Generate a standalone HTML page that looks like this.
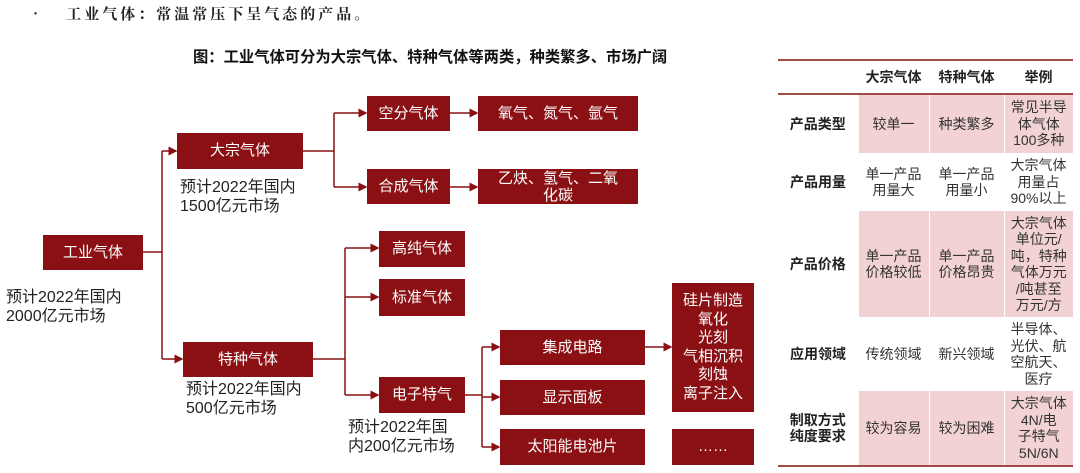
<!DOCTYPE html>
<html><head><meta charset="utf-8"><style>
body{margin:0;width:1080px;height:473px;background:#fff;position:relative;overflow:hidden;font-family:"Liberation Sans","Noto Sans CJK SC",sans-serif;}
.b{position:absolute;background:#8a1014;color:#fff;display:flex;align-items:center;justify-content:center;text-align:center;font-size:15px;line-height:18px;}
.t{position:absolute;color:#222;font-size:16px;line-height:19px;}
table{position:absolute;left:778px;top:59px;width:295px;border-collapse:collapse;font-size:14px;line-height:16.5px;color:#333;}
td{text-align:center;padding:0 2px;}
tr.p td{background:#f2d2d2;border-left:1px solid #fff;}
tr.p td:first-child{border-left:none;}
th{font-weight:bold;color:#222;}
</style></head><body>
<div style="position:absolute;left:28px;top:3px;font-size:15px;color:#222;font-family:'Noto Serif CJK SC',serif;font-weight:bold;letter-spacing:3px;">•&nbsp;&nbsp;&nbsp;工业气体：常温常压下呈气态的产品。</div>
<div style="position:absolute;left:193px;top:45px;font-size:15.3px;font-weight:bold;color:#111;">图：工业气体可分为大宗气体、特种气体等两类，种类繁多、市场广阔</div>

<svg width="780" height="473" style="position:absolute;left:0;top:0" fill="none" stroke="#8a1014" stroke-width="1.5">
<defs><marker id="a" markerWidth="6" markerHeight="6" refX="5" refY="3" orient="auto"><path d="M0,0L6,3L0,6z" fill="#8a1014" stroke="none"/></marker></defs>
<path d="M143,252H162M162,151V359"/>
<path d="M162,151H176" marker-end="url(#a)"/><path d="M162,359H182" marker-end="url(#a)"/>
<path d="M303,151H334M334,113V187"/>
<path d="M334,113H366" marker-end="url(#a)"/><path d="M334,187H366" marker-end="url(#a)"/>
<path d="M450,113H477" marker-end="url(#a)"/><path d="M450,187H477" marker-end="url(#a)"/>
<path d="M313,359H345M345,248V395"/>
<path d="M345,248H378" marker-end="url(#a)"/><path d="M345,297H378" marker-end="url(#a)"/><path d="M345,395H378" marker-end="url(#a)"/>
<path d="M465,395H482M482,347V447"/>
<path d="M482,347H499" marker-end="url(#a)"/><path d="M482,397H499" marker-end="url(#a)"/><path d="M482,447H499" marker-end="url(#a)"/>
<path d="M645,347H671" marker-end="url(#a)"/>
</svg>

<div class="b" style="left:43px;top:235px;width:100px;height:35px;">工业气体</div>
<div class="t" style="left:6px;top:288px;">预计2022年国内<br>2000亿元市场</div>
<div class="b" style="left:177px;top:133px;width:126px;height:36px;">大宗气体</div>
<div class="t" style="left:180px;top:178px;">预计2022年国内<br>1500亿元市场</div>
<div class="b" style="left:183px;top:342px;width:130px;height:35px;">特种气体</div>
<div class="t" style="left:186px;top:380px;">预计2022年国内<br>500亿元市场</div>
<div class="b" style="left:367px;top:96px;width:83px;height:35px;">空分气体</div>
<div class="b" style="left:367px;top:169px;width:83px;height:35px;">合成气体</div>
<div class="b" style="left:478px;top:96px;width:160px;height:35px;">氧气、氮气、氩气</div>
<div class="b" style="left:478px;top:169px;width:160px;height:35px;line-height:17px;">乙炔、氢气、二氧<br>化碳</div>
<div class="b" style="left:379px;top:231px;width:86px;height:36px;">高纯气体</div>
<div class="b" style="left:379px;top:279px;width:86px;height:37px;">标准气体</div>
<div class="b" style="left:379px;top:377px;width:86px;height:36px;">电子特气</div>
<div class="t" style="left:348px;top:418px;">预计2022年国<br>内200亿元市场</div>
<div class="b" style="left:500px;top:330px;width:145px;height:35px;">集成电路</div>
<div class="b" style="left:500px;top:380px;width:145px;height:35px;">显示面板</div>
<div class="b" style="left:500px;top:429px;width:145px;height:36px;">太阳能电池片</div>
<div class="b" style="left:672px;top:283px;width:82px;height:129px;line-height:18.5px;">硅片制造<br>氧化<br>光刻<br>气相沉积<br>刻蚀<br>离子注入</div>
<div class="b" style="left:672px;top:429px;width:82px;height:36px;">……</div>

<table>
<tr style="height:34px;border-top:2px solid #a04a4a;border-bottom:2px solid #a04a4a;"><th style="width:78px"></th><th style="width:69px">大宗气体</th><th style="width:73px">特种气体</th><th>举例</th></tr>
<tr class="p" style="height:59px"><th>产品类型</th><td>较单一</td><td>种类繁多</td><td>常见半导<br>体气体<br>100多种</td></tr>
<tr style="height:58px"><th>产品用量</th><td>单一产品<br>用量大</td><td>单一产品<br>用量小</td><td>大宗气体<br>用量占<br>90%以上</td></tr>
<tr class="p" style="height:106px"><th>产品价格</th><td>单一产品<br>价格较低</td><td>单一产品<br>价格昂贵</td><td>大宗气体<br>单位元/<br>吨，特种<br>气体万元<br>/吨甚至<br>万元/方</td></tr>
<tr style="height:74px"><th>应用领域</th><td>传统领域</td><td>新兴领域</td><td>半导体、<br>光伏、航<br>空航天、<br>医疗</td></tr>
<tr class="p" style="height:75px;border-bottom:2px solid #a04a4a;"><th>制取方式<br>纯度要求</th><td>较为容易</td><td>较为困难</td><td>大宗气体<br>4N/电<br>子特气<br>5N/6N</td></tr>
</table>
</body></html>
